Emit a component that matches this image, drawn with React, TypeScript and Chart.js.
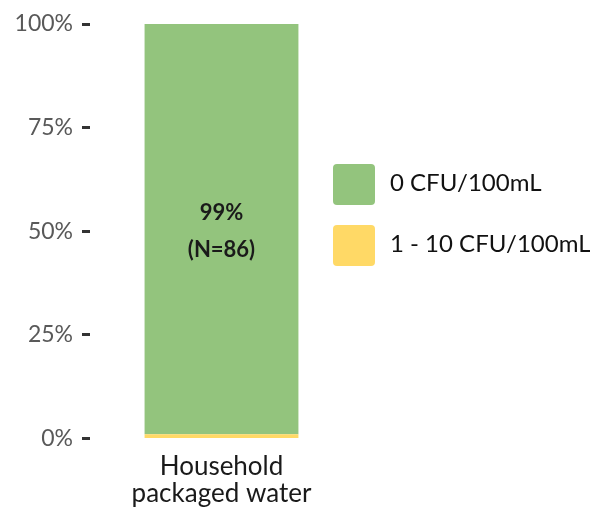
import React, { useEffect, useRef } from "react";
import { Chart, registerables } from "chart.js";

Chart.register(...registerables);

const categories = [["Household", "packaged water"]];
const zeroCfuPct = [99];
const lowCfuPct = [1];
const sampleN = [86];
const seriesLabels = ["0 CFU/100mL", "1 - 10 CFU/100mL"];
const seriesColors = ["#93C47D", "#FFD966"];
const yTicks = [0, 25, 50, 75, 100];

const FONT = "Lato, 'Open Sans', sans-serif";

const barLabelPlugin = {
  id: "barLabel",
  afterDatasetsDraw(chart: any) {
    const ctx = chart.ctx;
    const meta = chart.getDatasetMeta(1);
    meta.data.forEach((bar: any, i: number) => {
      const cy = (bar.y + bar.base) / 2;
      ctx.save();
      ctx.fillStyle = "#1a1a1a";
      ctx.font = `bold 22px ${FONT}`;
      ctx.textAlign = "center";
      ctx.textBaseline = "middle";
      ctx.fillText(`${zeroCfuPct[i]}%`, bar.x, cy - 16);
      ctx.fillText(`(N=${sampleN[i]})`, bar.x, cy + 21);
      ctx.restore();
    });
  },
};

const sideLegendPlugin = {
  id: "sideLegend",
  afterDraw(chart: any) {
    const ctx = chart.ctx;
    const x0 = 333;
    const y0 = 164;
    const gap = 61;
    seriesLabels.forEach((lab, i) => {
      const y = y0 + i * gap;
      ctx.save();
      ctx.fillStyle = seriesColors[i];
      ctx.beginPath();
      (ctx as any).roundRect(x0, y, 42, 41, 4);
      ctx.fill();
      ctx.fillStyle = "#111";
      ctx.font = `24px ${FONT}`;
      ctx.textAlign = "left";
      ctx.textBaseline = "middle";
      ctx.fillText(lab, 390, y + 19);
      ctx.restore();
    });
  },
};

export default function App() {
  const ref = useRef<HTMLCanvasElement | null>(null);
  useEffect(() => {
    if (!ref.current) return;
    const chart = new Chart(ref.current, {
      type: "bar",
      data: {
        labels: categories as any,
        datasets: [
          {
            label: seriesLabels[1],
            data: lowCfuPct,
            backgroundColor: seriesColors[1],
            categoryPercentage: 1,
            barPercentage: 0.585,
          },
          {
            label: seriesLabels[0],
            data: zeroCfuPct,
            backgroundColor: seriesColors[0],
            categoryPercentage: 1,
            barPercentage: 0.585,
          },
        ],
      },
      options: {
        animation: false,
        responsive: false,
        layout: { padding: { top: 24, right: 237, bottom: 0, left: 0 } },
        plugins: { legend: { display: false }, tooltip: { enabled: false } },
        scales: {
          x: {
            stacked: true,
            grid: { display: false, drawTicks: false },
            border: { display: false },
            afterFit: (s: any) => {
              s.height = 69.5;
            },
            ticks: {
              padding: 15,
              color: "#1a1a1a",
              font: { family: FONT, size: 26, lineHeight: 1.04 },
            },
          },
          y: {
            stacked: true,
            min: 0,
            max: 100,
            afterBuildTicks: (s: any) => {
              s.ticks = yTicks.map((v) => ({ value: v }));
            },
            afterFit: (s: any) => {
              s.width = 90;
            },
            grid: {
              drawOnChartArea: false,
              drawTicks: true,
              tickLength: 8,
              tickWidth: 3,
              tickColor: "#333",
            },
            border: { display: false },
            ticks: {
              padding: 9,
              color: "#595959",
              font: { family: FONT, size: 23 },
              callback: (v: any) => `${v}%`,
            },
          },
        },
      },
      plugins: [barLabelPlugin, sideLegendPlugin],
    });
    return () => chart.destroy();
  }, []);
  return (
    <div style={{ position: "fixed", left: 0, top: 0, width: 590, height: 508, background: "#fff" }}>
      <canvas ref={ref} width={590} height={508} style={{ width: 590, height: 508 }} />
    </div>
  );
}
